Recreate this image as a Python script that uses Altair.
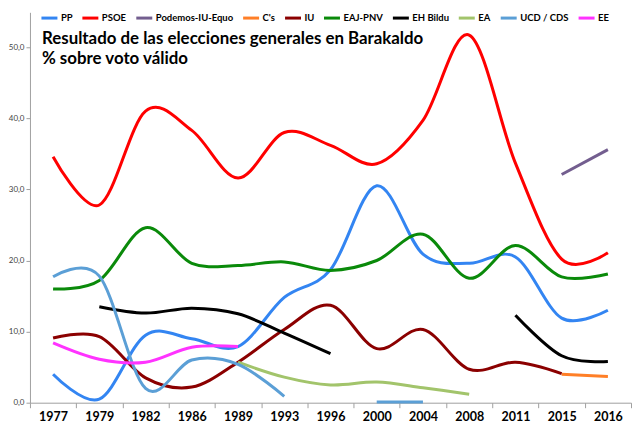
import altair as alt
import pandas as pd

years = ["1977", "1979", "1982", "1986", "1989", "1993", "1996",
         "2000", "2004", "2008", "2011", "2015", "2016"]

parties = ["PP", "PSOE", "Podemos-IU-Equo", "C's", "IU", "EAJ-PNV",
           "EH Bildu", "EA", "UCD / CDS", "EE"]
colors = ["#3385F2", "#FF0000", "#735E8F", "#FF7F27", "#8B0000", "#0A8A0A",
          "#000000", "#A2C46B", "#5B9FD6", "#FF33FF"]

pp = [4.0, 0.5, 9.5, 9.0, 7.9, 14.8, 18.7, 30.5, 20.9, 19.6, 20.5, 11.9, 13.0]
psoe = [34.6, 27.8, 41.0, 38.3, 31.6, 38.0, 36.2, 33.6, 39.7, 51.7, 33.7, 20.2, 21.1]
podemos = [None] * 11 + [32.1, 35.6]
cs = [None] * 11 + [4.0, 3.7]
iu = [9.1, 9.3, 3.5, 2.2, 5.7, 10.3, 13.7, 7.6, 10.3, 4.7, 5.7, 4.1, None]
pnv = [16.0, 17.2, 24.6, 19.6, 19.3, 19.8, 18.6, 20.0, 23.7, 17.5, 22.1, 17.7, 18.1]
bildu = [None, 13.5, 12.6, 13.3, 12.5, 9.8, 6.9, None, None, None, 12.3, 6.6, 5.8]
ea = [None, None, None, None, 5.7, 3.6, 2.5, 2.9, 2.1, 1.2, None, None, None]
ucd = [17.7, 17.8, 2.0, 6.0, 5.4, 0.9, None, 0.1, 0.1, None, None, None, None]
ee = [8.4, 6.1, 5.7, 7.8, 7.9, None, None, None, None, None, None, None, None]

series = {"PP": pp, "PSOE": psoe, "Podemos-IU-Equo": podemos, "C's": cs,
          "IU": iu, "EAJ-PNV": pnv, "EH Bildu": bildu, "EA": ea,
          "UCD / CDS": ucd, "EE": ee}

title_lines = ["Resultado de las elecciones generales en Barakaldo",
               "% sobre voto válido"]

rows = []
for party, vals in series.items():
    seg = 0
    prev = None
    for yr, v in zip(years, vals):
        if v is None:
            prev = None
            continue
        if prev is None:
            seg += 1
        rows.append({"party": party, "year": yr, "value": v,
                     "seg": f"{party}-{seg}"})
        prev = v
df = pd.DataFrame(rows)

FONT = "Lato"

lines = alt.Chart(df).mark_line(interpolate="cardinal", strokeWidth=3).encode(
    x=alt.X("year:O", sort=years, bandPosition=0.5,
            scale=alt.Scale(type="band", domain=years, paddingInner=0, paddingOuter=0),
            axis=alt.Axis(title=None, labelAngle=0, tickBand="extent",
                          labelFont=FONT, labelFontSize=12.5, labelFontWeight="bold",
                          labelColor="#000000", labelPadding=3, tickSize=5,
                          domainColor="#A0A0A0", tickColor="#A0A0A0", grid=False)),
    y=alt.Y("value:Q", scale=alt.Scale(domain=[0, 54.9], nice=False, zero=True),
            axis=alt.Axis(title=None, values=[0, 10, 20, 30, 40, 50], grid=False,
                          labelExpr="replace(format(datum.value, '.1f'), '.', ',')",
                          labelFont=FONT, labelFontSize=8, labelColor="#444444",
                          tickSize=4, labelPadding=2,
                          domainColor="#A0A0A0", tickColor="#A0A0A0")),
    color=alt.Color("party:N", scale=alt.Scale(domain=parties, range=colors),
                    legend=alt.Legend(title=None, orient="none", legendX=10, legendY=-4,
                                      direction="horizontal", columns=10,
                                      symbolType="stroke", symbolSize=256,
                                      symbolStrokeWidth=3, labelFont=FONT,
                                      labelFontSize=9.5, labelFontWeight="bold",
                                      labelColor="#000000", labelOffset=2,
                                      columnPadding=3, padding=0)),
    detail="seg:N",
)

title = alt.Chart(pd.DataFrame({"a": [0]})).mark_text(
    text=title_lines, align="left", baseline="top", font=FONT, fontSize=16.9,
    fontWeight="bold", color="#000000", lineHeight=20,
).encode(x=alt.value(12), y=alt.value(19))

chart = alt.layer(lines, title).properties(
    width=602, height=391,
    padding={"left": 0, "top": 0, "right": 0, "bottom": 0},
).configure_view(stroke=None)

chart.save("out.html", embed_options={"renderer": "svg", "actions": False})
